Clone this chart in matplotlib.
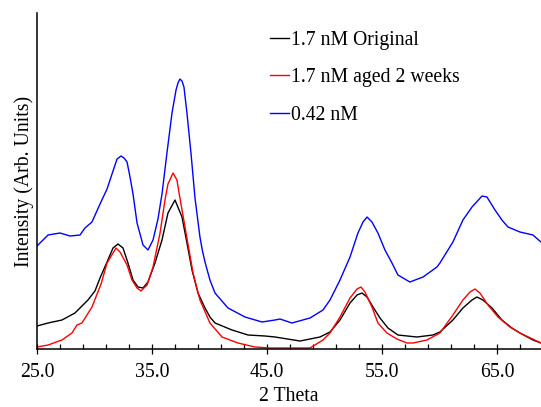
import matplotlib
matplotlib.use("Agg")
import matplotlib.pyplot as plt

# XRD patterns: 2-theta (deg) vs intensity (arbitrary units)
theta_orig = [25.00, 25.96, 27.17, 28.30, 29.43, 30.04, 30.48, 31.09, 31.61, 32.04,
              32.48, 32.91, 33.35, 33.78, 34.22, 34.65, 35.26, 35.87, 36.39, 37.00,
              37.61, 38.04, 38.48, 39.00, 39.61, 40.04, 40.48, 41.96, 43.35, 44.83,
              45.70, 47.87, 49.61, 50.48, 51.35, 52.22, 52.83, 53.26, 53.70, 54.22,
              54.83, 55.52, 56.39, 58.04, 59.43, 60.04, 61.17, 62.04, 62.83, 63.26,
              63.78, 64.57, 65.43, 66.30, 67.00, 68.13, 68.83]
int_orig = [23, 26, 29, 36, 49, 58, 71, 87, 101, 105,
            101, 86, 69, 62, 61, 67, 86, 109, 136, 149,
            132, 106, 79, 56, 41, 32, 26, 19, 14, 13,
            12, 8, 12, 17, 29, 46, 54, 56, 52, 42,
            31, 21, 14, 12, 14, 17, 29, 41, 49, 52,
            49, 41, 29, 21, 16, 9, 6]

theta_aged = [25.00, 25.96, 27.17, 28.04, 28.48, 28.91, 29.78, 30.57, 31.09, 31.87,
              32.22, 32.83, 33.26, 33.70, 34.04, 34.57, 35.09, 35.70, 36.13, 36.39,
              36.83, 37.17, 37.43, 37.87, 38.57, 39.17, 40.04, 41.09, 42.48, 43.96,
              45.26, 48.74, 49.87, 50.48, 51.35, 52.22, 52.83, 53.17, 53.52, 54.13,
              54.65, 55.43, 56.30, 57.17, 57.70, 58.91, 60.04, 61.17, 62.04, 62.65,
              63.09, 63.52, 64.22, 65.09, 66.13, 67.00, 68.83]
int_aged = [2, 4, 9, 16, 24, 26, 42, 65, 86, 101,
            97, 84, 69, 61, 58, 64, 82, 116, 149, 165,
            176, 169, 151, 122, 76, 49, 26, 12, 6, 2,
            1, 1, 9, 16, 32, 51, 60, 62, 57, 42,
            26, 16, 10, 6, 6, 9, 16, 34, 49, 57,
            60, 56, 44, 32, 22, 16, 6]

theta_low = [25.00, 25.96, 27.00, 27.87, 28.74, 29.17, 29.78, 30.48, 31.09, 31.61,
             31.96, 32.30, 32.57, 32.83, 33.09, 33.35, 33.70, 34.22, 34.65, 35.09,
             35.52, 35.87, 36.30, 36.74, 37.09, 37.26, 37.43, 37.61, 37.78, 38.04,
             38.39, 38.74, 39.17, 39.39, 39.61, 40.04, 40.48, 41.61, 43.09, 44.57,
             45.70, 46.13, 47.17, 48.74, 49.87, 50.48, 51.35, 52.22, 52.91, 53.35,
             53.70, 54.13, 54.65, 55.26, 55.87, 56.39, 57.43, 58.57, 59.78, 60.04,
             61.17, 62.04, 62.83, 63.70, 64.13, 64.83, 65.43, 65.96, 67.00, 68.13,
             68.83]
int_low = [103, 114, 116, 113, 114, 121, 127, 145, 160, 178,
           190, 193, 191, 187, 172, 155, 126, 104, 99, 109,
           130, 155, 196, 236, 259, 266, 270, 268, 262, 236,
           196, 151, 112, 98, 87, 69, 56, 41, 32, 27,
           29, 30, 26, 31, 39, 49, 69, 92, 116, 127,
           132, 127, 116, 99, 86, 74, 67, 72, 82, 86,
           107, 129, 142, 153, 152, 139, 129, 122, 117, 114,
           107]

labels = ["1.7 nM Original", "1.7 nM aged 2 weeks", "0.42 nM"]
colors = ["black", "#ff0000", "#0000ff"]

major_ticks = [25, 35, 45, 55, 65]
minor_ticks = [27, 29, 31, 33, 37, 39, 41, 43, 47, 49, 51, 53, 57, 59, 61, 63, 67]

plt.rcParams["font.family"] = ["Liberation Serif", "DejaVu Serif"]
fs = 14.2

fig = plt.figure(figsize=(5.41, 4.07), dpi=100)
ax = fig.add_axes([0.0684, 0.1425, 0.9316, 0.8255])

ax.plot(theta_orig, int_orig, color=colors[0], lw=1.0, label=labels[0])
ax.plot(theta_aged, int_aged, color=colors[1], lw=1.0, label=labels[1])
ax.plot(theta_low, int_low, color=colors[2], lw=1.0, label=labels[2])

ax.set_xlim(25, 68.83)
ax.set_ylim(0, 336)

for side in ("top", "right"):
    ax.spines[side].set_visible(False)
ax.spines["left"].set_linewidth(1.1)
ax.spines["bottom"].set_linewidth(1.1)

ax.set_yticks([])
ax.set_xticks(major_ticks)
ax.set_xticklabels([f"{t:.1f}" for t in major_ticks])
ax.set_xticks(minor_ticks, minor=True)
ax.tick_params(axis="x", which="major", direction="inout", length=7.5, width=0.9,
               labelsize=fs, pad=6)
ax.tick_params(axis="x", which="minor", direction="in", length=3.8, width=0.9)

ax.set_xlabel("2 Theta", fontsize=fs, labelpad=4)
ax.set_ylabel("Intensity (Arb. Units)", fontsize=fs, labelpad=2)

leg = ax.legend(loc="upper left", bbox_to_anchor=(0.462, 0.947), frameon=False,
                fontsize=fs, handlelength=0.95, handletextpad=0.1,
                labelspacing=0.93, borderpad=0, borderaxespad=0)

fig.savefig("out.png", dpi=100)
